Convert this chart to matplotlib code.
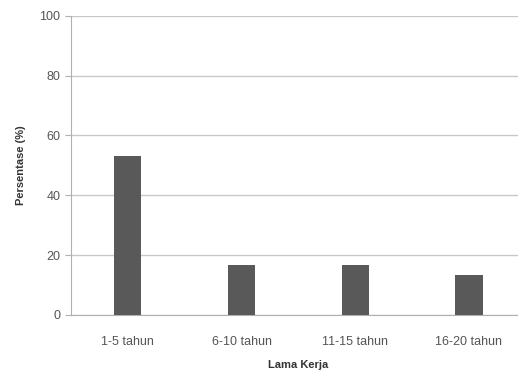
import matplotlib.pyplot as plt
import numpy as np

# Distribusi responden menurut lama kerja
categories = ["1-5 tahun", "6-10 tahun", "11-15 tahun", "16-20 tahun"]
persentase = [53.3, 16.7, 16.7, 13.3]

plt.rcParams["font.family"] = ["Liberation Sans", "DejaVu Sans"]

fig = plt.figure(figsize=(5.18, 3.78), dpi=100)
ax = fig.add_axes([0.137, 0.167, 0.878, 0.791])

x = np.arange(len(categories))
ax.bar(x, persentase, width=0.24, color="#595959", zorder=3)

ax.set_xlim(-0.5, len(categories) - 0.5)
ax.set_ylim(0, 100)
ax.set_yticks(np.arange(0, 101, 20))
ax.set_xticks(x)
ax.set_xticklabels(categories)

ax.grid(axis="y", color="#c8c8c8", linewidth=1, zorder=0)
for side in ["top", "right"]:
    ax.spines[side].set_visible(False)
for side in ["left", "bottom"]:
    ax.spines[side].set_color("#b0b0b0")
ax.tick_params(axis="y", colors="#b0b0b0", labelcolor="#555555", labelsize=9, length=4)
ax.tick_params(axis="x", length=0, labelcolor="#555555", labelsize=9, pad=15)

ax.set_ylabel("Persentase (%)", fontsize=8, fontweight="bold", color="#333333", labelpad=10)
ax.set_xlabel("Lama Kerja", fontsize=8, fontweight="bold", color="#333333", labelpad=9)

plt.savefig("out.png", dpi=100)
